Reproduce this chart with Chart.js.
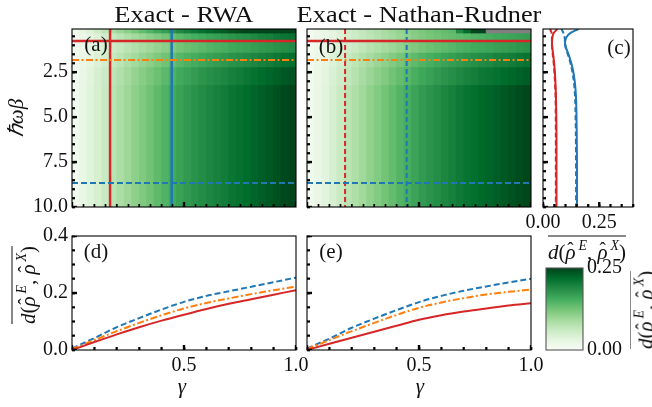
<!DOCTYPE html>
<html><head><meta charset="utf-8">
<script src="https://cdn.jsdelivr.net/npm/chart.js@4.4.1/dist/chart.umd.min.js"></script>
<style>
html,body{margin:0;padding:0;background:#fff;}
#wrap{position:relative;width:652px;height:407px;overflow:hidden;background:#fff;}
canvas{position:absolute;left:0;top:0;}
.t{position:absolute;font-family:"Liberation Serif",serif;color:#111;white-space:nowrap;line-height:1;transform:translate(-50%,-50%);font-size:21px;}
.ttl{font-size:24px;transform:translate(-50%,-50%) scaleX(1.1);}
.rot{transform:translate(-50%,-50%) rotate(-90deg);}
.ov{display:inline-block;border-top:1.3px solid #111;padding-top:5px;}
.sp{font-size:66%;position:relative;top:-0.62em;margin-left:3px;}
.hat{position:relative;display:inline-block;}
.hat::after{content:"\02C6";position:absolute;left:50%;top:-0.12em;transform:translateX(-50%);font-style:normal;font-size:90%;}
</style></head><body>
<div id="wrap">
<canvas id="ca" width="652" height="407"></canvas>
<canvas id="cb" width="652" height="407"></canvas>
<canvas id="cc" width="652" height="407"></canvas>
<canvas id="cd" width="652" height="407"></canvas>
<canvas id="ce" width="652" height="407"></canvas>
<canvas id="cbar" width="652" height="407"></canvas>
<div class="t ttl" style="left:184px;top:14px">Exact - RWA</div>
<div class="t ttl" style="left:419px;top:14px">Exact - Nathan-Rudner</div>
<div class="t" style="left:96px;top:44px">(a)</div>
<div class="t" style="left:331px;top:46px">(b)</div>
<div class="t" style="left:619px;top:47px">(c)</div>
<div class="t" style="left:96px;top:251px">(d)</div>
<div class="t" style="left:331px;top:251px">(e)</div>
<div class="t rot" style="left:16px;top:118px"><i>ℏωβ</i></div>
<div class="t" style="left:182px;top:386px"><i>γ</i></div>
<div class="t" style="left:420px;top:386px"><i>γ</i></div>
<div class="t rot" style="left:25px;top:285px"><span class="ov"><i>d</i>(<i class="hat">ρ</i><span class="sp"><i>E</i></span>, <i class="hat">ρ</i><span class="sp"><i>X</i></span>)</span></div>
<div class="t" style="left:587px;top:249px"><span class="ov"><i>d</i>(<i class="hat">ρ</i><span class="sp"><i>E</i></span>, <i class="hat">ρ</i><span class="sp"><i>X</i></span>)</span></div>
<div class="t rot" style="left:643px;top:310px"><span class="ov"><i>d</i>(<i class="hat">ρ</i><span class="sp"><i>E</i></span>, <i class="hat">ρ</i><span class="sp"><i>X</i></span>)</span></div>
</div>
<script>
// ---------------- data ----------------
const gammaCols = [0.0167,0.05,0.0833,0.1167,0.15,0.1833,0.2167,0.25,0.2833,0.3167,0.35,0.3833,0.4167,0.45,0.4833,0.5167,0.55,0.5833,0.6167,0.65,0.6833,0.7167,0.75,0.7833,0.8167,0.85,0.8833,0.9167,0.95,0.9833];
const betaEdges = [0.1, 0.32, 0.8, 1.4, 2.2, 3.2, 10];
const colorMax = 0.25;

const rwaRow0 = [0.013,0.028,0.041,0.055,0.070,0.085,0.098,0.110,0.123,0.135,0.146,0.158,0.169,0.179,0.190,0.199,0.207,0.215,0.222,0.228,0.233,0.240,0.246,0.252,0.259,0.265,0.270,0.277,0.283,0.289];
const rwaRow1 = [0.009,0.020,0.031,0.041,0.052,0.063,0.072,0.082,0.091,0.099,0.108,0.116,0.125,0.133,0.140,0.147,0.153,0.159,0.164,0.168,0.173,0.178,0.182,0.186,0.191,0.196,0.200,0.205,0.209,0.213];
const rwaRow2 = [0.008,0.018,0.027,0.036,0.046,0.056,0.064,0.072,0.080,0.088,0.095,0.103,0.110,0.117,0.124,0.130,0.135,0.140,0.145,0.149,0.152,0.157,0.161,0.164,0.169,0.173,0.176,0.181,0.185,0.188];
const rwaRow3 = [0.009,0.021,0.031,0.041,0.052,0.064,0.073,0.083,0.092,0.101,0.109,0.118,0.126,0.134,0.142,0.149,0.155,0.161,0.166,0.170,0.175,0.180,0.184,0.188,0.194,0.198,0.202,0.207,0.212,0.216];
const rwaRow4 = [0.010,0.023,0.034,0.046,0.058,0.070,0.081,0.091,0.102,0.111,0.121,0.130,0.140,0.148,0.157,0.164,0.171,0.178,0.183,0.188,0.193,0.199,0.203,0.208,0.214,0.219,0.223,0.229,0.234,0.238];
const rwaRow5 = [0.011,0.024,0.036,0.048,0.061,0.074,0.085,0.096,0.107,0.117,0.127,0.137,0.147,0.156,0.165,0.173,0.180,0.187,0.193,0.198,0.203,0.209,0.214,0.219,0.225,0.230,0.235,0.241,0.246,0.251];

const nrRow0 = [0.008,0.016,0.024,0.032,0.041,0.050,0.058,0.066,0.074,0.081,0.088,0.095,0.102,0.108,0.114,0.120,0.125,0.130,0.135,0.139,0.190,0.220,0.250,0.250,null,null,null,null,null,null];
const nrRow1 = [0.007,0.016,0.023,0.031,0.040,0.049,0.056,0.064,0.071,0.078,0.085,0.092,0.099,0.105,0.111,0.117,0.122,0.126,0.131,0.135,0.139,0.143,0.147,0.150,0.153,0.156,0.160,0.163,0.166,0.169];
const nrRow2 = [0.008,0.017,0.024,0.033,0.042,0.052,0.060,0.068,0.076,0.083,0.090,0.097,0.104,0.111,0.117,0.124,0.129,0.134,0.139,0.143,0.148,0.152,0.156,0.159,0.162,0.166,0.169,0.172,0.176,0.179];
const nrRow3 = [0.009,0.020,0.029,0.039,0.050,0.061,0.071,0.080,0.089,0.098,0.106,0.115,0.123,0.131,0.139,0.146,0.152,0.158,0.164,0.169,0.174,0.179,0.184,0.188,0.191,0.196,0.200,0.203,0.207,0.211];
const nrRow4 = [0.010,0.021,0.032,0.043,0.055,0.067,0.077,0.087,0.098,0.107,0.116,0.126,0.135,0.143,0.152,0.160,0.166,0.173,0.179,0.185,0.191,0.196,0.201,0.206,0.209,0.214,0.219,0.222,0.227,0.231];
const nrRow5 = [0.011,0.023,0.034,0.046,0.059,0.072,0.083,0.094,0.105,0.115,0.125,0.135,0.145,0.154,0.163,0.172,0.179,0.186,0.193,0.199,0.205,0.211,0.216,0.221,0.225,0.230,0.235,0.239,0.244,0.248];

// cut positions
const gammaCutRed = 0.17, gammaCutBlue = 0.445;
const betaCutRed = 0.77, betaCutOrange = 1.82, betaCutBlue = 8.67;

// panel (c): cuts along beta
const cBeta = [0.1,0.2,0.3,0.45,0.65,0.9,1.2,1.6,2.2,3.0,4.0,6.0,8.0,10.0];
const cRwaRed  = [0.064,0.056,0.049,0.044,0.041,0.040,0.042,0.046,0.051,0.055,0.058,0.060,0.060,0.060];
const cNrRed   = [0.031,0.035,0.038,0.040,0.040,0.039,0.041,0.044,0.049,0.053,0.056,0.057,0.057,0.057];
const cRwaBlue = [0.158,0.140,0.124,0.110,0.101,0.098,0.104,0.116,0.130,0.141,0.147,0.150,0.151,0.151];
const cNrBlue  = [0.082,0.086,0.090,0.094,0.097,0.097,0.102,0.113,0.126,0.137,0.143,0.146,0.147,0.147];

// panels (d),(e): cuts along gamma
const gammaLine = [0,0.1,0.2,0.3,0.4,0.5,0.6,0.7,0.8,0.9,1.0];
const dRed    = [0.000,0.028,0.055,0.080,0.103,0.124,0.144,0.162,0.178,0.194,0.210];
const dOrange = [0.003,0.035,0.066,0.095,0.122,0.146,0.165,0.181,0.196,0.210,0.222];
const dBlue   = [0.005,0.042,0.080,0.112,0.142,0.169,0.190,0.206,0.222,0.238,0.254];
const eRed    = [0.000,0.022,0.043,0.064,0.085,0.106,0.122,0.135,0.146,0.156,0.164];
const eOrange = [0.003,0.035,0.066,0.095,0.123,0.148,0.167,0.182,0.195,0.204,0.212];
const eBlue   = [0.005,0.040,0.078,0.110,0.140,0.168,0.190,0.208,0.223,0.237,0.250];

// ticks
const gammaTicks = [0,0.1,0.2,0.3,0.4,0.5,0.6,0.7,0.8,0.9,1.0];
const gammaMajor = [0,0.5,1.0];
const gammaLabels = [0.5,1.0];
const betaTicks = [0.5,1,1.5,2,2.5,3,3.5,4,4.5,5,5.5,6,6.5,7,7.5,8,8.5,9,9.5,10];
const betaLabels = [2.5,5,7.5,10];
const cXTicks = [0,0.05,0.1,0.15,0.2,0.25,0.3,0.35,0.4];
const cXLabels = [0,0.25];
const dYTicks = [0,0.05,0.1,0.15,0.2,0.25,0.3,0.35,0.4];
const dYLabels = [0,0.2,0.4];
const cbarTicks = [0,0.25];

// ---------------- style ----------------
const FONT = 'Liberation Serif';
const RED = '#d62728', BLUE = '#1f77b4', ORANGE = '#ff7f0e', NAN_COLOR = '#808080';
const GREENS = ['#f7fcf5','#e5f5e0','#c7e9c0','#a1d99b','#74c476','#41ab5d','#238b45','#006d2c','#00441b'];
function hex2rgb(h){return [parseInt(h.slice(1,3),16),parseInt(h.slice(3,5),16),parseInt(h.slice(5,7),16)];}
function greens(t){
  t = Math.max(0, Math.min(1, t));
  const n = GREENS.length - 1, f = t*n, i = Math.min(n-1, Math.floor(f)), u = f - i;
  const a = hex2rgb(GREENS[i]), b = hex2rgb(GREENS[i+1]);
  return 'rgb(' + a.map((c,k)=>Math.round(c + (b[k]-c)*u)).join(',') + ')';
}

function pad(area, yW, xH, rW){ return {left: area.l - yW, right: 652 - area.r - (rW||0), top: area.t, bottom: 407 - area.b - xH}; }
function isMaj(list, v){ return !!list && list.some(u => Math.abs(u - v) < 1e-9); }

function axis(o){
  const grid = o.noTicks ? {display: false, drawTicks: false} : {
    display: true, drawOnChartArea: false, drawTicks: true, tickLength: -3, z: 1,
    color: '#000', tickColor: '#000', tickWidth: 1.7
  };
  return {
    type: 'linear', position: o.pos, min: o.min, max: o.max, reverse: !!o.reverse, offset: false,
    grid: grid, border: {display: false},
    ticks: {display: !!o.labels, autoSkip: false, maxRotation: 0, padding: o.noTicks ? 4 : 7,
      font: {family: FONT, size: 20}, color: '#111',
      callback: v => isMaj(o.labels, v) ? Number(v).toFixed(o.dec) : ''},
    afterBuildTicks: s => { s.ticks = o.ticks.map(v => ({value: v})); },
    afterFit: s => { if (o.pos === 'left' || o.pos === 'right') s.width = o.size; else s.height = o.size; }
  };
}

// inward tick marks as clipped 'line' point markers sitting on the plot edge
function tickMarks(axisKey, ticks, majors, edge){
  return {
    type: 'line', showLine: false, clip: 0, order: -1,
    data: ticks.map(v => axisKey === 'x' ? {x: v, y: edge} : {x: edge, y: v}),
    pointStyle: 'line', rotation: axisKey === 'x' ? 90 : 0,
    pointRotation: axisKey === 'x' ? 90 : 0,
    pointRadius: ticks.map(v => isMaj(majors, v) ? 5 : 3),
    pointBorderWidth: ticks.map(v => isMaj(majors, v) ? 2.4 : 1.8),
    pointBorderColor: '#000', pointBackgroundColor: '#000', borderColor: '#000', backgroundColor: '#000'
  };
}

function makeFrame(color){
  return { id: 'frame', afterDraw(chart){
    const ctx = chart.ctx, a = chart.chartArea;
    ctx.save();
    ctx.strokeStyle = color; ctx.lineWidth = 1.1;
    ctx.strokeRect(a.left, a.top, a.right - a.left, a.bottom - a.top);
    ctx.restore();
  }};
}

const base = {responsive: false, animation: false, events: [], devicePixelRatio: 1,
  plugins: {legend: {display: false}, tooltip: {enabled: false}, title: {display: false}}};

function refLine(pts, color, width, dash){
  return {type: 'line', data: pts, borderColor: color, borderWidth: width, borderDash: dash || [],
    pointRadius: 0, fill: false, tension: 0, order: 0};
}

function heatChart(id, rows, area, yW, vDash){
  const datasets = rows.map((row, r) => ({
    type: 'bar',
    data: row.map((v, i) => ({x: gammaCols[i], y: [betaEdges[r], betaEdges[r+1]]})),
    backgroundColor: row.map(v => v === null ? NAN_COLOR : greens(v / colorMax)),
    borderWidth: 0, grouped: false, barPercentage: 1, categoryPercentage: 1, inflateAmount: 0.4, order: 10
  }));
  const bMin = betaEdges[0], bMax = betaEdges[betaEdges.length-1];
  datasets.push(refLine([{x:0,y:betaCutRed},{x:1,y:betaCutRed}], RED, 2.5));
  datasets.push(refLine([{x:0,y:betaCutOrange},{x:1,y:betaCutOrange}], ORANGE, 2, [7,2.5,2,2.5]));
  datasets.push(refLine([{x:0,y:betaCutBlue},{x:1,y:betaCutBlue}], BLUE, 2, [6,3]));
  datasets.push(refLine([{x:gammaCutRed,y:bMin},{x:gammaCutRed,y:bMax}], RED, vDash ? 2 : 2.5, vDash ? [5,3] : []));
  datasets.push(refLine([{x:gammaCutBlue,y:bMin},{x:gammaCutBlue,y:bMax}], BLUE, vDash ? 2 : 2.5, vDash ? [5,3] : []));
  datasets.push(tickMarks('x', gammaTicks, gammaMajor, bMax));
  datasets.push(tickMarks('y', betaTicks, betaLabels, 0));
  new Chart(document.getElementById(id), {
    type: 'bar', data: {datasets},
    options: Object.assign({}, base, {
      layout: {padding: pad(area, yW, 0)},
      scales: {
        x: axis({pos: 'bottom', min: 0, max: 1, ticks: gammaTicks, labels: null, size: 0}),
        y: axis({pos: 'left', min: bMin, max: bMax, reverse: true, ticks: betaTicks, labels: yW ? betaLabels : null, dec: 1, size: yW})
      }
    }),
    plugins: [makeFrame('#000')]
  });
}

heatChart('ca', [rwaRow0, rwaRow1, rwaRow2, rwaRow3, rwaRow4, rwaRow5], {l:72, t:29, r:296, b:207}, 50, false);
heatChart('cb', [nrRow0, nrRow1, nrRow2, nrRow3, nrRow4, nrRow5], {l:307, t:29, r:531, b:207}, 0, true);

// panel (c)
function cutC(vals, color, dash){
  return {data: cBeta.map((b, i) => ({x: vals[i], y: b})), showLine: true, borderColor: color,
    borderWidth: 2, borderDash: dash || [], pointRadius: 0, tension: 0.25, fill: false};
}
new Chart(document.getElementById('cc'), {
  type: 'scatter',
  data: {datasets: [cutC(cRwaRed, RED), cutC(cNrRed, RED, [5,3]), cutC(cRwaBlue, BLUE), cutC(cNrBlue, BLUE, [5,3]),
    tickMarks('x', cXTicks, cXLabels, 10), tickMarks('y', betaTicks, betaLabels, 0)]},
  options: Object.assign({}, base, {
    layout: {padding: pad({l:543, t:29, r:633, b:207}, 0, 30)},
    scales: {
      x: axis({pos: 'bottom', min: 0, max: 0.4, ticks: cXTicks, labels: cXLabels, dec: 2, size: 30}),
      y: axis({pos: 'left', min: 0.1, max: 10, reverse: true, ticks: betaTicks, labels: null, size: 0})
    }
  }),
  plugins: [makeFrame('#000')]
});

// panels (d), (e)
function gLine(vals, color, dash){
  return {data: gammaLine.map((g, i) => ({x: g, y: vals[i]})), borderColor: color, borderWidth: 2,
    borderDash: dash || [], pointRadius: 0, cubicInterpolationMode: 'monotone', fill: false};
}
function lineChart(id, red, orange, blue, area, yW){
  new Chart(document.getElementById(id), {
    type: 'line',
    data: {datasets: [gLine(red, RED), gLine(orange, ORANGE, [7,2.5,2,2.5]), gLine(blue, BLUE, [6,3]),
      tickMarks('x', gammaTicks, gammaMajor, 0), tickMarks('y', dYTicks, dYLabels, 0)]},
    options: Object.assign({}, base, {
      layout: {padding: pad(area, yW, 30)},
      scales: {
        x: axis({pos: 'bottom', min: 0, max: 1, ticks: gammaTicks, labels: gammaLabels, dec: 1, size: 30}),
        y: axis({pos: 'left', min: 0, max: 0.4, ticks: dYTicks, labels: yW ? dYLabels : null, dec: 1, size: yW})
      }
    }),
    plugins: [makeFrame('#000')]
  });
}
lineChart('cd', dRed, dOrange, dBlue, {l:72, t:236, r:296, b:350}, 50);
lineChart('ce', eRed, eOrange, eBlue, {l:307, t:236, r:531, b:350}, 0);

// colorbar
new Chart(document.getElementById('cbar'), {
  type: 'bar',
  data: {labels: [''], datasets: [{
    data: [[cbarTicks[0], cbarTicks[1]]],
    backgroundColor: c => {
      const a = c.chart.chartArea;
      if (!a) return greens(0.5);
      const g = c.chart.ctx.createLinearGradient(0, a.bottom, 0, a.top);
      GREENS.forEach((col, i) => g.addColorStop(i / (GREENS.length - 1), col));
      return g;
    },
    borderWidth: 0, barPercentage: 1, categoryPercentage: 1
  }]},
  options: Object.assign({}, base, {
    layout: {padding: pad({l:546, t:268, r:583, b:350}, 0, 0, 60)},
    scales: {
      x: {display: false},
      y: axis({pos: 'right', min: 0, max: 0.25, ticks: cbarTicks, labels: cbarTicks, dec: 2, size: 60, noTicks: true})
    }
  }),
  plugins: [makeFrame('#555')]
});
</script>
</body></html>
